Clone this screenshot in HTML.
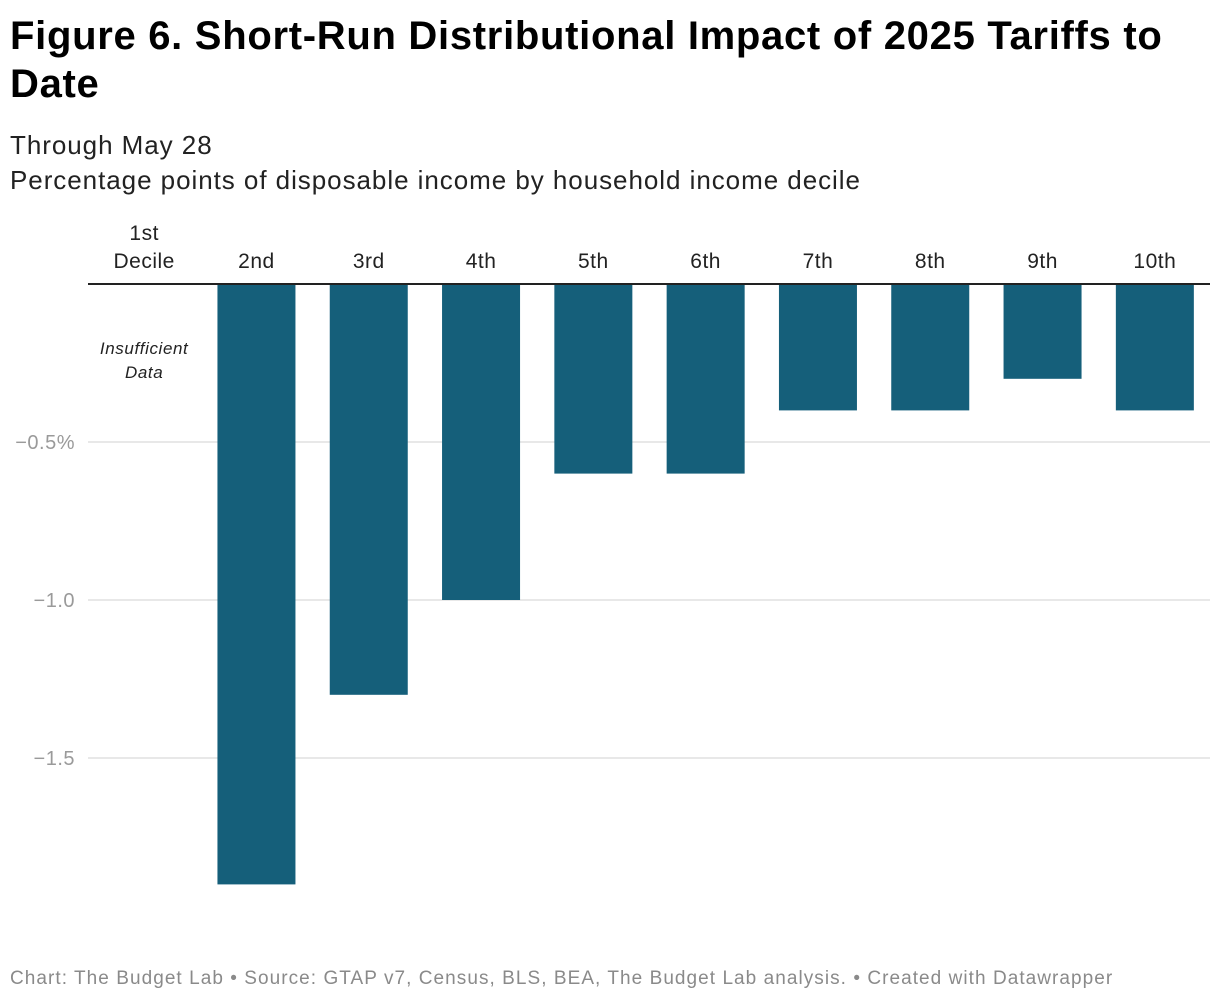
<!DOCTYPE html>
<html><head><meta charset="utf-8">
<style>
body{margin:0;background:#fff;font-family:"Liberation Sans",sans-serif;width:1220px;height:1004px;overflow:hidden;position:relative}
#title{position:absolute;left:10px;top:12px;font-size:40px;font-weight:bold;line-height:48px;color:#000;width:1200px;letter-spacing:0.7px}
.sub{position:absolute;left:10px;font-size:26px;color:#222;letter-spacing:0.95px}
#foot{position:absolute;left:10px;top:968px;font-size:19px;color:#8a8a8a;letter-spacing:1.05px}
svg{position:absolute;left:0;top:0}
</style></head><body>
<div id="title">Figure 6. Short-Run Distributional Impact of 2025 Tariffs to Date</div>
<div class="sub" style="top:130px">Through May 28</div>
<div class="sub" style="top:165px">Percentage points of disposable income by household income decile</div>
<svg id="chart" width="1220" height="1004"></svg>
<div id="foot">Chart: The Budget Lab • Source: GTAP v7, Census, BLS, BEA, The Budget Lab analysis. • Created with Datawrapper</div>
<script>
const categories=["1st Decile","2nd","3rd","4th","5th","6th","7th","8th","9th","10th"];
const values=[null,-1.9,-1.3,-1.0,-0.6,-0.6,-0.4,-0.4,-0.3,-0.4];
const ticks=[-0.5,-1.0,-1.5];
const tickLabels=["−0.5%","−1.0","−1.5"];
const svg=document.getElementById('chart');
const NS="http://www.w3.org/2000/svg";
const y0=284,scale=316,x0=88,step=112.3,bw=78;
const y=v=>y0-v*scale;
const cx=i=>x0+step*(i+0.5);
function mk(t,a){const e=document.createElementNS(NS,t);for(const k in a)e.setAttribute(k,a[k]);svg.appendChild(e);return e;}
ticks.forEach((t,i)=>{
 const l=mk('line',{x1:x0,x2:1210,y1:y(t),y2:y(t),stroke:'#e0e0e0','stroke-width':1.5});
 
 
 const tx=mk('text',{x:75,y:y(t)+7,'text-anchor':'end','font-size':20,fill:'#9a9a9a','font-family':'Liberation Sans, sans-serif','letter-spacing':'0.5'});
 tx.textContent=tickLabels[i];
 
 
});
values.forEach((v,i)=>{
 if(v===null){
  ['Insufficient','Data'].forEach((s,j)=>{
   const t=mk('text',{x:cx(i),y:354+j*24,'text-anchor':'middle','font-size':17,'font-style':'italic',fill:'#222','font-family':'Liberation Sans, sans-serif','letter-spacing':'0.6'});
   t.textContent=s;
   
   
  });
  return;
 }
 const r=mk('rect',{x:cx(i)-bw/2,y:y0,width:bw,height:y(v)-y0,fill:'#155f7a'});
 
 
});
categories.forEach((c,i)=>{
 const parts=c.split(' ');
 parts.forEach((p,j)=>{
  const t=mk('text',{x:cx(i),y:268-(parts.length-1-j)*28,'text-anchor':'middle','font-size':21,fill:'#222','font-family':'Liberation Sans, sans-serif','letter-spacing':'0.5'});
  t.textContent=p;
  
  
 });
});
const base=mk('line',{x1:x0,x2:1210,y1:y0,y2:y0,stroke:'#222','stroke-width':2});


</script>
</body></html>
